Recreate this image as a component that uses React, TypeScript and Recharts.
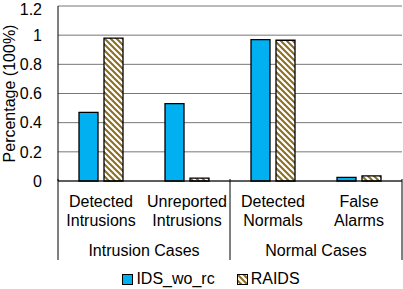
import React from "react";
import { BarChart, Bar, XAxis, YAxis, CartesianGrid, Legend } from "recharts";

// #region Chart data
const categories = [
  ["Detected", "Intrusions"],
  ["Unreported", "Intrusions"],
  ["Detected", "Normals"],
  ["False", "Alarms"],
];
const groups = ["Intrusion Cases", "Intrusion Cases", "Normal Cases", "Normal Cases"];
const idsWoRc = [0.47, 0.53, 0.97, 0.025];
const raids = [0.98, 0.02, 0.965, 0.035];
const yTicks = [0, 0.2, 0.4, 0.6, 0.8, 1, 1.2];
// #endregion

const data = categories.map((c, i) => ({
  name: c.join(" "),
  group: groups[i],
  idx: i,
  ids: idsWoRc[i],
  raids: raids[i],
}));

const FONT = "'Liberation Sans', Arial, sans-serif";
const BLUE = "#00B0F0";
const BROWN = "#8B6D1F";
const CHART_W = 403;
const CHART_H = 289;
const PLOT_LEFT = 58;
const PLOT_RIGHT = 1;
const band = (CHART_W - PLOT_LEFT - PLOT_RIGHT) / categories.length;

const CategoryTick = (props: any) => {
  const { x, y, payload } = props;
  const i = payload.index;
  const lines = categories[i];
  const firstOfGroup = i === 0 || groups[i] !== groups[i - 1];
  const last = i === categories.length - 1;
  const lastOfGroup = last || groups[i] !== groups[i + 1];
  return (
    <g>
      {lines.map((l, k) => (
        <text
          key={k}
          x={x}
          y={y + 18 + k * 19}
          textAnchor="middle"
          fontSize={16}
          fontFamily={FONT}
          fill="#000"
        >
          {l}
        </text>
      ))}
      {firstOfGroup && (
        <line x1={x - band / 2} x2={x - band / 2} y1={y - 10} y2={y + 71} stroke="#000" />
      )}
      {last && <line x1={x + band / 2} x2={x + band / 2} y1={y - 10} y2={y + 71} stroke="#000" />}
      {lastOfGroup && (
        <text
          x={x - band / 2}
          y={y + 67}
          textAnchor="middle"
          fontSize={16}
          fontFamily={FONT}
          fill="#000"
        >
          {groups[i]}
        </text>
      )}
    </g>
  );
};

const LegendContent = () => (
  <div
    style={{
      display: "flex",
      justifyContent: "center",
      fontFamily: FONT,
      fontSize: 16,
      lineHeight: "20px",
    }}
  >
    <span style={{ display: "flex", alignItems: "center", marginRight: 22 }}>
      <svg width={11} height={11} style={{ marginRight: 3 }}>
        <rect x={0.5} y={0.5} width={10} height={10} fill={BLUE} stroke="#000" />
      </svg>
      IDS_wo_rc
    </span>
    <span style={{ display: "flex", alignItems: "center" }}>
      <svg width={11} height={11} style={{ marginRight: 3 }}>
        <rect x={0.5} y={0.5} width={10} height={10} fill="url(#hatch)" stroke="#000" />
      </svg>
      RAIDS
    </span>
  </div>
);

const YLabel = (props: any) => {
  const vb = props.viewBox;
  const cy = vb.y + vb.height / 2;
  return (
    <text
      x={9}
      y={cy}
      transform={`rotate(-90, 9, ${cy})`}
      textAnchor="middle"
      dominantBaseline="central"
      fontSize={16}
      fontFamily={FONT}
      fill="#000"
    >
      Percentage (100%)
    </text>
  );
};

export default function App() {
  return (
    <div style={{ position: "absolute", left: 0, top: 0, width: CHART_W, height: CHART_H, background: "#fff" }}>
      <svg width={0} height={0} style={{ position: "absolute" }}>
        <defs>
          <pattern id="hatch" patternUnits="userSpaceOnUse" width={6} height={6}>
            <rect width={6} height={6} fill="#fff" />
            <path d="M0,0 L6,6 M-1,5 L1,7 M5,-1 L7,1" stroke={BROWN} strokeWidth={2} />
          </pattern>
        </defs>
      </svg>
      <BarChart
        width={CHART_W}
        height={CHART_H}
        data={data}
        margin={{ top: 6, right: PLOT_RIGHT, left: 0, bottom: 0 }}
        barSize={19}
        barGap={6}
      >
        <CartesianGrid vertical={false} stroke="#777" />
        <XAxis
          dataKey="idx"
          height={88}
          tick={<CategoryTick />}
          tickLine={false}
          axisLine={{ stroke: "#000" }}
          interval={0}
        />
        <XAxis xAxisId="top" dataKey="idx" orientation="top" height={0} tick={false} tickLine={false} axisLine={{ stroke: "#000" }} />
        <YAxis
          domain={[0, 1.2]}
          ticks={yTicks}
          width={PLOT_LEFT}
          tickLine={false}
          axisLine={{ stroke: "#000" }}
          tickMargin={10}
          tick={{ fill: "#000", fontSize: 16, fontFamily: FONT }}
          label={<YLabel />}
        />
        <YAxis yAxisId="right" orientation="right" width={0} tick={false} tickLine={false} axisLine={{ stroke: "#000" }} />
        <Legend
          verticalAlign="bottom"
          content={<LegendContent />}
          wrapperStyle={{ height: 20, left: 26, width: 370 }}
        />
        <Bar dataKey="ids" fill={BLUE} stroke="#000" strokeWidth={1.3} isAnimationActive={false} />
        <Bar dataKey="raids" fill="url(#hatch)" stroke="#000" strokeWidth={1.3} isAnimationActive={false} />
      </BarChart>
    </div>
  );
}
